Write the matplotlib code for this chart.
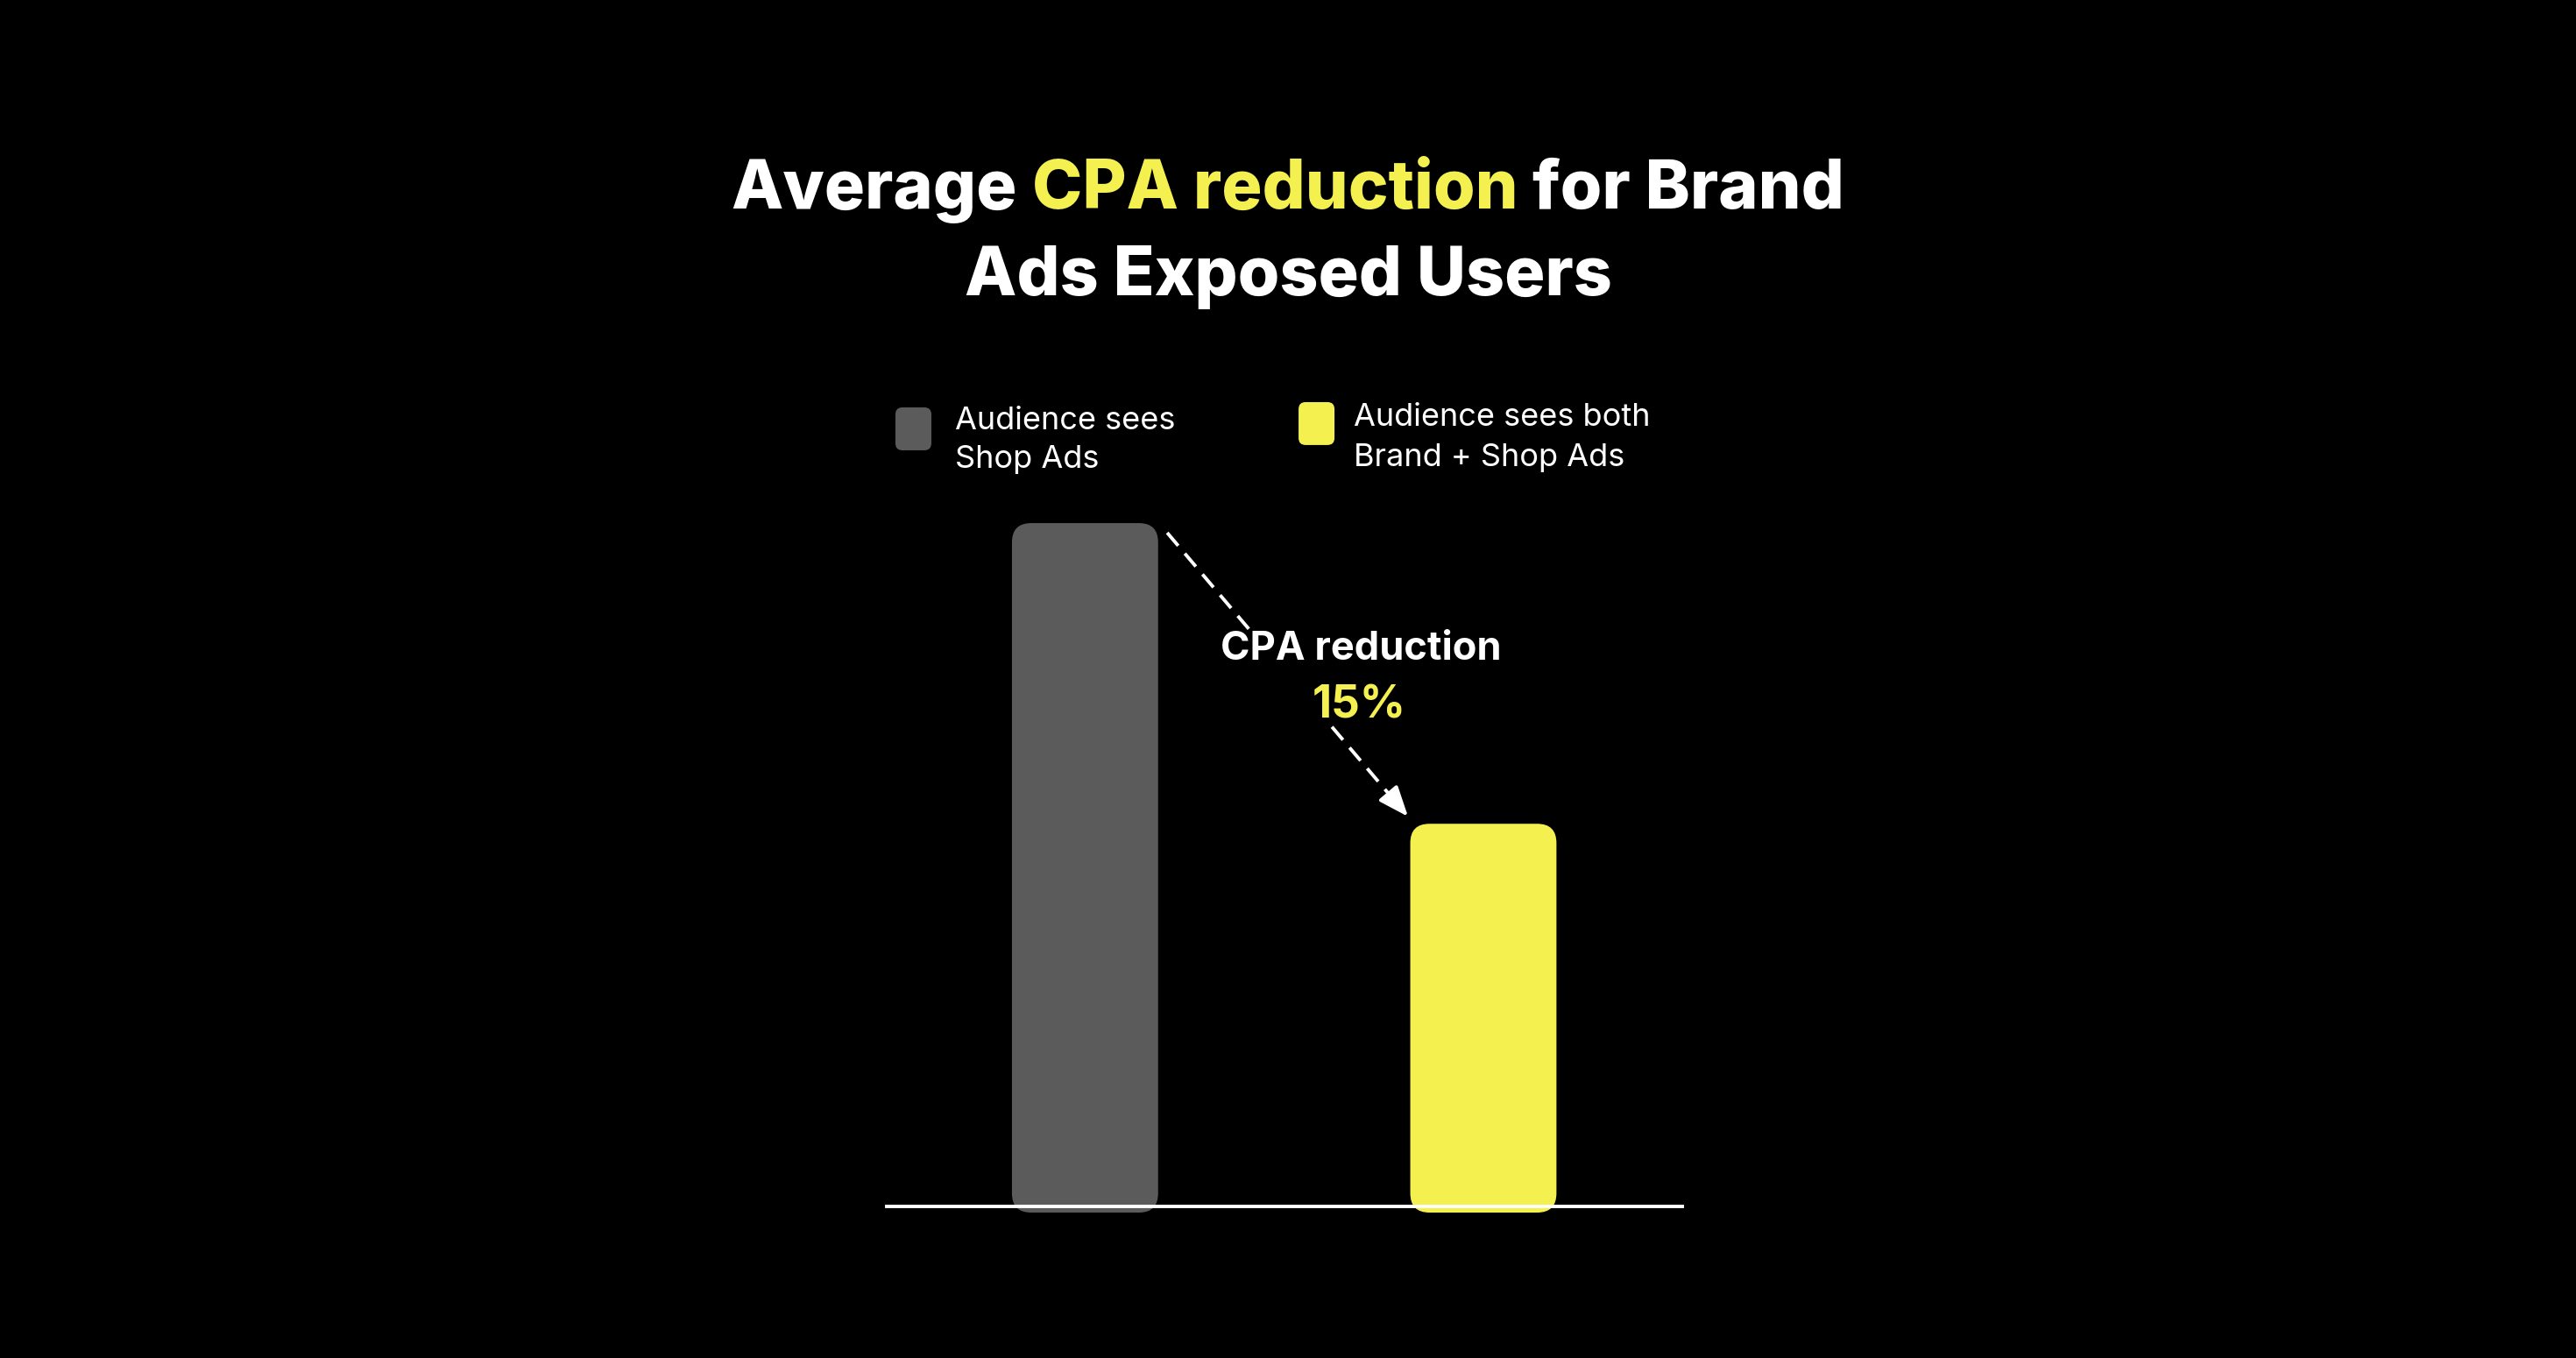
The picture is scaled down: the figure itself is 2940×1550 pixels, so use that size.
import matplotlib.pyplot as plt
from matplotlib.patches import FancyBboxPatch
from matplotlib.lines import Line2D

# --- data ---
categories = ['Audience sees\nShop Ads', 'Audience sees both\nBrand + Shop Ads']
cpa_values = [100, 56]          # relative CPA, no axis in the source
bar_colors = ['#5b5b5b', '#f3f050']
reduction_label = 'CPA reduction'
reduction_value = '15%'
title_parts = ['Average', 'CPA reduction', 'for Brand']
title_colors = ['white', '#f3f050', 'white']
title_line2 = 'Ads Exposed Users'

plt.rcParams['font.family'] = ['Inter', 'DejaVu Sans']

W, H = 2940, 1550
fig = plt.figure(figsize=(W / 100, H / 100), dpi=100, facecolor='black')

# bar axes
ax = fig.add_axes([0.3442, 0.1116, 0.3088, 0.5032])
ax.set_facecolor('black')
ax.set_xlim(-0.498, 1.499)
ax.set_ylim(0, 100)
ax.axis('off')

bar_w = 0.367
# same corner radius in pixels on both axes
p0 = ax.transData.transform((0, 0))
p1 = ax.transData.transform((1, 1))
px_x = p1[0] - p0[0]
px_y = p1[1] - p0[1]
radius_px = 22
below = 7 / px_y
for i, (v, c) in enumerate(zip(cpa_values, bar_colors)):
    patch = FancyBboxPatch((i - bar_w / 2, -below), bar_w, v + below,
                           boxstyle=f'round,pad=0,rounding_size={radius_px / px_x}',
                           mutation_aspect=px_x / px_y,
                           facecolor=c, edgecolor='none', clip_on=False, zorder=2)
    ax.add_patch(patch)

ax.axhline(0, color='white', lw=2.8, zorder=3, clip_on=False)

# title with a coloured phrase
r = fig.canvas.get_renderer()
tkw = dict(fontsize=55.5, fontweight='heavy')


def text_w(s, **kw):
    t = fig.text(0, 0, s, **kw)
    w = t.get_window_extent(r).width
    t.remove()
    return w


space = text_w('a a', **tkw) - text_w('aa', **tkw)
widths = [text_w(s, **tkw) for s in title_parts]
total = sum(widths) + space * (len(widths) - 1)
x = W / 2 - total / 2
for s, c, w in zip(title_parts, title_colors, widths):
    fig.text(x / W, 0.8465, s, color=c, ha='left', va='baseline', **tkw)
    x += w + space
fig.text(0.5, 0.7826, title_line2, color='white', ha='center', va='baseline', **tkw)

# legend
leg_boxes = [(0.3476, 0.6684), (0.5041, 0.6723)]
leg_text_x = [0.3707, 0.5255]
leg_baselines = [(0.6839, 0.6555), (0.6865, 0.6568)]
for (bx, by), tx, ys, lab, c in zip(leg_boxes, leg_text_x, leg_baselines, categories, bar_colors):
    fig.patches.append(FancyBboxPatch((bx, by), 0.01395, 0.0316,
                                      boxstyle=f'round,pad=0,rounding_size={8 / W}',
                                      mutation_aspect=W / H, facecolor=c, edgecolor='none',
                                      transform=fig.transFigure, figure=fig))
    for line, ty in zip(lab.split('\n'), ys):
        fig.text(tx, ty, line, color='white', fontsize=26, ha='left', va='baseline')

# dashed arrow, interrupted by the label
sx, sy = 0.4531, 0.6077
ex, ey = 0.5466, 0.3987


def along(t):
    return sx + t * (ex - sx), sy + t * (ey - sy)


dash = dict(transform=fig.transFigure, color='white', lw=2.8,
            linestyle=(0, (5, 3)), solid_capstyle='butt', zorder=6)
for t0, t1 in [(0, 0.35), (0.684, 0.94)]:
    a, b = along(t0), along(t1)
    fig.add_artist(Line2D([a[0], b[0]], [a[1], b[1]], **dash))
fig.add_artist(plt.Annotation('', xy=(ex, ey), xytext=along(0.93),
                              xycoords='figure fraction', textcoords='figure fraction',
                              arrowprops=dict(arrowstyle='-|>,head_length=1.05,head_width=0.42',
                                              color='white', lw=2.8, mutation_scale=20,
                                              shrinkA=0, shrinkB=0)))

fig.text(0.5284, 0.5142, reduction_label, color='white', fontsize=32.5, fontweight='bold',
         ha='center', va='baseline', zorder=5)
fig.text(0.5276, 0.471, reduction_value, color='#f3f050', fontsize=37, fontweight='bold',
         ha='center', va='baseline', zorder=5)

fig.savefig('out.png', dpi=100, facecolor='black')
